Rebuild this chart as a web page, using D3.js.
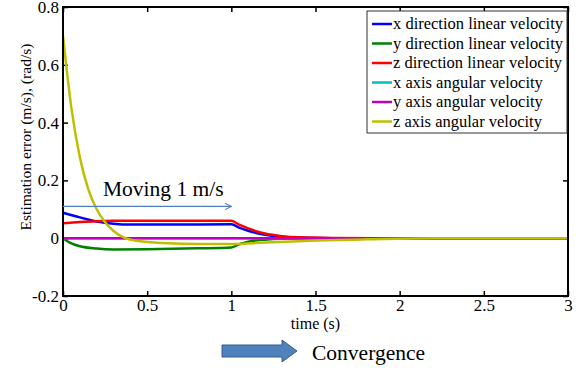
<!DOCTYPE html>
<html>
<head>
<meta charset="utf-8">
<script src="https://cdn.jsdelivr.net/npm/d3@7"></script>
<style>
  body { margin: 0; background: #fff; }
  svg { display: block; }
  svg text { font-family: "Liberation Serif", "DejaVu Serif", "Times New Roman", Times, serif !important; fill: #000; }
</style>
</head>
<body>
<div id="chart"></div>
<script>
// time samples (s) per series
const tBlue = [0, 0.1, 0.2, 0.3, 0.4, 0.7, 1.0, 1.05, 1.1, 1.2, 1.3, 1.4, 1.6, 3];
const xLin = [0.088, 0.072, 0.058, 0.05, 0.047, 0.047, 0.048, 0.036, 0.026, 0.012, 0.005, 0.002, 0, 0];

const tGreen = [0, 0.05, 0.1, 0.2, 0.3, 0.5, 0.8, 1.0, 1.05, 1.1, 1.2, 1.3, 1.5, 2, 3];
const yLin = [0, -0.018, -0.028, -0.036, -0.039, -0.038, -0.035, -0.032, -0.02, -0.012, -0.005, -0.002, -0.001, 0, 0];

const tRed = [0, 0.1, 0.2, 0.3, 0.6, 1.0, 1.05, 1.1, 1.2, 1.3, 1.4, 1.6, 2, 3];
const zLin = [0.052, 0.056, 0.059, 0.06, 0.06, 0.06, 0.046, 0.034, 0.016, 0.007, 0.003, 0.001, 0, 0];

const tFlat = [0, 3];
const xAng = [0, 0];
const yAng = [0, 0];

const tYellow = [0, 0.05, 0.1, 0.15, 0.2, 0.25, 0.3, 0.37, 0.45, 0.6, 0.8, 1.0, 1.2, 1.5, 1.8, 2.2, 3];
const zAng = [0.70, 0.45, 0.28, 0.17, 0.10, 0.055, 0.025, 0, -0.01, -0.017, -0.02, -0.02, -0.015, -0.008, -0.004, 0, 0];

const seriesNames = ["x direction linear velocity", "y direction linear velocity", "z direction linear velocity",
  "x axis angular velocity", "y axis angular velocity", "z axis angular velocity"];
const seriesColors = ["#0000ff", "#008000", "#ff0000", "#00bfbf", "#bf00bf", "#bfbf00"];
const seriesData = [[tBlue, xLin], [tGreen, yLin], [tRed, zLin], [tFlat, xAng], [tFlat, yAng], [tYellow, zAng]];

const xTicks = [0, 0.5, 1, 1.5, 2, 2.5, 3];
const yTicks = [-0.2, 0, 0.2, 0.4, 0.6, 0.8];

const width = 585, height = 368;
const margin = {top: 7, right: 17, bottom: 72, left: 63};

const svg = d3.select("#chart").append("svg")
  .attr("width", width)
  .attr("height", height);

const x = d3.scaleLinear().domain([0, 3]).range([margin.left, width - margin.right]);
const y = d3.scaleLinear().domain([-0.2, 0.8]).range([height - margin.bottom, margin.top]);

// axes with inward ticks
const fmt = d => d === 0 ? "0" : String(d);
const tickLen = 5;
svg.append("g")
  .attr("transform", `translate(0,${y(-0.2)})`)
  .call(d3.axisBottom(x).tickValues(xTicks).tickFormat(fmt).tickSizeInner(-tickLen).tickSizeOuter(0).tickPadding(3))
  .call(g => g.select(".domain").remove());
svg.append("g")
  .attr("transform", `translate(0,${y(0.8)})`)
  .call(d3.axisTop(x).tickValues(xTicks).tickFormat("").tickSizeInner(-tickLen).tickSizeOuter(0))
  .call(g => g.select(".domain").remove());
svg.append("g")
  .attr("transform", `translate(${x(0)},0)`)
  .call(d3.axisLeft(y).tickValues(yTicks).tickFormat(fmt).tickSizeInner(-tickLen).tickSizeOuter(0).tickPadding(4))
  .call(g => g.select(".domain").remove());
svg.append("g")
  .attr("transform", `translate(${x(3)},0)`)
  .call(d3.axisRight(y).tickValues(yTicks).tickFormat("").tickSizeInner(-tickLen).tickSizeOuter(0))
  .call(g => g.select(".domain").remove());

svg.selectAll(".tick line").attr("stroke", "#000").attr("stroke-width", 1.5);
svg.selectAll(".tick text").style("font-size", "17px");

// curves
const line = d3.line()
  .x(d => x(d[0]))
  .y(d => y(d[1]))
  .curve(d3.curveMonotoneX);

seriesData.forEach(([ts, vs], i) => {
  svg.append("path")
    .datum(ts.map((t, k) => [t, vs[k]]))
    .attr("fill", "none")
    .attr("stroke", seriesColors[i])
    .attr("stroke-width", 2.5)
    .attr("d", line);
});

// frame
svg.append("rect")
  .attr("x", x(0)).attr("y", y(0.8))
  .attr("width", x(3) - x(0)).attr("height", y(-0.2) - y(0.8))
  .attr("fill", "none")
  .attr("stroke", "#000")
  .attr("stroke-width", 2);

// legend
const legend = svg.append("g").attr("transform", "translate(367,11)");
legend.append("rect")
  .attr("width", 200).attr("height", 122)
  .attr("fill", "#fff").attr("stroke", "#333").attr("stroke-width", 1);
seriesNames.forEach((name, i) => {
  const ly = 13 + i * 19.5;
  legend.append("line")
    .attr("x1", 5).attr("x2", 25).attr("y1", ly).attr("y2", ly)
    .attr("stroke", seriesColors[i]).attr("stroke-width", 2.5);
  legend.append("text")
    .attr("x", 26).attr("y", ly + 5)
    .style("font-size", "16.5px")
    .text(name);
});

// axis labels
svg.append("text")
  .attr("x", x(1.5)).attr("y", 329)
  .attr("text-anchor", "middle")
  .style("font-size", "16px")
  .text("time (s)");
svg.append("text")
  .attr("transform", "translate(31,137) rotate(-90)")
  .attr("text-anchor", "middle")
  .style("font-size", "15.6px")
  .text("Estimation error (m/s), (rad/s)");

// "Moving 1 m/s" annotation
const defs = svg.append("defs");
defs.append("marker")
  .attr("id", "openArrow")
  .attr("viewBox", "0 0 10 10")
  .attr("refX", 9).attr("refY", 5)
  .attr("markerWidth", 8).attr("markerHeight", 8)
  .attr("markerUnits", "userSpaceOnUse")
  .attr("orient", "auto")
  .append("path")
  .attr("d", "M1,1 L9,5 L1,9")
  .attr("fill", "none").attr("stroke", "#4f81bd").attr("stroke-width", 1.3);

svg.append("line")
  .attr("x1", x(0)).attr("x2", x(1)).attr("y1", y(0.11)).attr("y2", y(0.11))
  .attr("stroke", "#4f81bd").attr("stroke-width", 1.2)
  .attr("marker-end", "url(#openArrow)");
svg.append("text")
  .attr("x", 103).attr("y", 196)
  .style("font-size", "21.5px")
  .text("Moving 1 m/s");

// "Convergence" block arrow
svg.append("path")
  .attr("d", "M222,345 L282,345 L282,340 L297,351 L282,362 L282,357 L222,357 Z")
  .attr("fill", "#4f81bd").attr("stroke", "#385d8a").attr("stroke-width", 1);
svg.append("text")
  .attr("x", 312).attr("y", 360)
  .style("font-size", "21.5px")
  .text("Convergence");
</script>
</body>
</html>
